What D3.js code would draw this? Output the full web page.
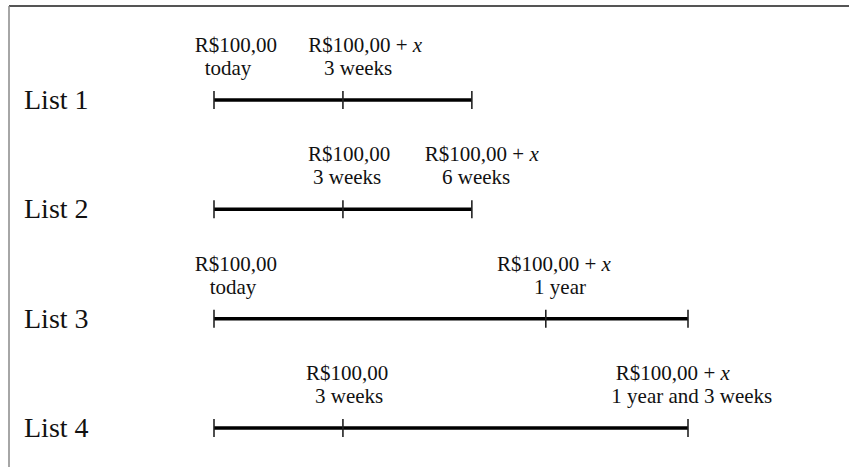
<!DOCTYPE html>
<html>
<head>
<meta charset="utf-8">
<script src="https://cdn.jsdelivr.net/npm/d3@7"></script>
<style>
  html, body { margin: 0; padding: 0; background: #fff; }
  svg { display: block; }
</style>
</head>
<body>
<div id="chart"></div>
<script>
// lists (rows)
const lists = ["List 1", "List 2", "List 3", "List 4"];

// tick positions on each timeline (abstract units, 0 = start, 100 = longest end)
const ticks = [
  [0, 27.2, 54.4],
  [0, 27.2, 54.4],
  [0, 70, 100],
  [0, 27.2, 100]
];

// labels above each timeline: amount, time, and where they sit on the line
const amounts = [
  ["R$100,00", "R$100,00 + x"],
  ["R$100,00", "R$100,00 + x"],
  ["R$100,00", "R$100,00 + x"],
  ["R$100,00", "R$100,00 + x"]
];
const times = [
  ["today", "3 weeks"],
  ["3 weeks", "6 weeks"],
  ["today", "1 year"],
  ["3 weeks", "1 year and 3 weeks"]
];
const amountAt = [
  [4.6, 31.9],
  [28.5, 56.5],
  [4.6, 71.7],
  [28.1, 96.8]
];
const timeAt = [
  [2.95, 30.4],
  [28.1, 55.3],
  [4.0, 73.0],
  [28.5, 100.8]
];

const width = 849;
const height = 467;

const svg = d3.select("#chart")
  .append("svg")
  .attr("width", width)
  .attr("height", height);

// frame (top and left edges visible)
svg.append("line")
  .attr("x1", 9).attr("x2", width).attr("y1", 6).attr("y2", 6)
  .attr("stroke", "#555").attr("stroke-width", 2);
svg.append("line")
  .attr("x1", 9).attr("x2", 9).attr("y1", 6).attr("y2", height)
  .attr("stroke", "#888").attr("stroke-width", 1.5);

// scales
const x = d3.scaleLinear().domain([0, 100]).range([214, 688]);
const y = d3.scalePoint().domain(lists).range([100, 428]);

const font = "'Liberation Serif', 'Times New Roman', Times, serif";

const row = svg.selectAll(".row")
  .data(lists)
  .enter()
  .append("g")
  .attr("class", "row")
  .attr("transform", (d) => `translate(0, ${y(d)})`);

// list name
row.append("text")
  .attr("x", 24)
  .attr("y", 9)
  .attr("font-family", font)
  .attr("font-size", 28)
  .attr("fill", "#111")
  .text((d) => d);

// timeline
row.append("line")
  .attr("x1", (d, i) => x(d3.min(ticks[i])))
  .attr("x2", (d, i) => x(d3.max(ticks[i])))
  .attr("stroke", "#000")
  .attr("stroke-width", 3.5);

row.each(function (d, i) {
  const g = d3.select(this);

  g.selectAll(".tick")
    .data(ticks[i])
    .enter()
    .append("line")
    .attr("class", "tick")
    .attr("x1", (t) => x(t))
    .attr("x2", (t) => x(t))
    .attr("y1", -9)
    .attr("y2", 9)
    .attr("stroke", "#222")
    .attr("stroke-width", 1.6);

  amounts[i].forEach((a, j) => {
    const t = g.append("text")
      .attr("x", x(amountAt[i][j]))
      .attr("y", -48)
      .attr("text-anchor", "middle")
      .attr("font-family", font)
      .attr("font-size", 21)
      .attr("fill", "#111");
    const parts = a.split(" + ");
    t.append("tspan").text(parts[0]);
    if (parts.length > 1) {
      t.append("tspan").text(" + ");
      t.append("tspan").attr("font-style", "italic").text(parts[1]);
    }
  });

  times[i].forEach((s, j) => {
    g.append("text")
      .attr("x", x(timeAt[i][j]))
      .attr("y", -25)
      .attr("text-anchor", "middle")
      .attr("font-family", font)
      .attr("font-size", 21)
      .attr("fill", "#111")
      .text(s);
  });
});
</script>
</body>
</html>
